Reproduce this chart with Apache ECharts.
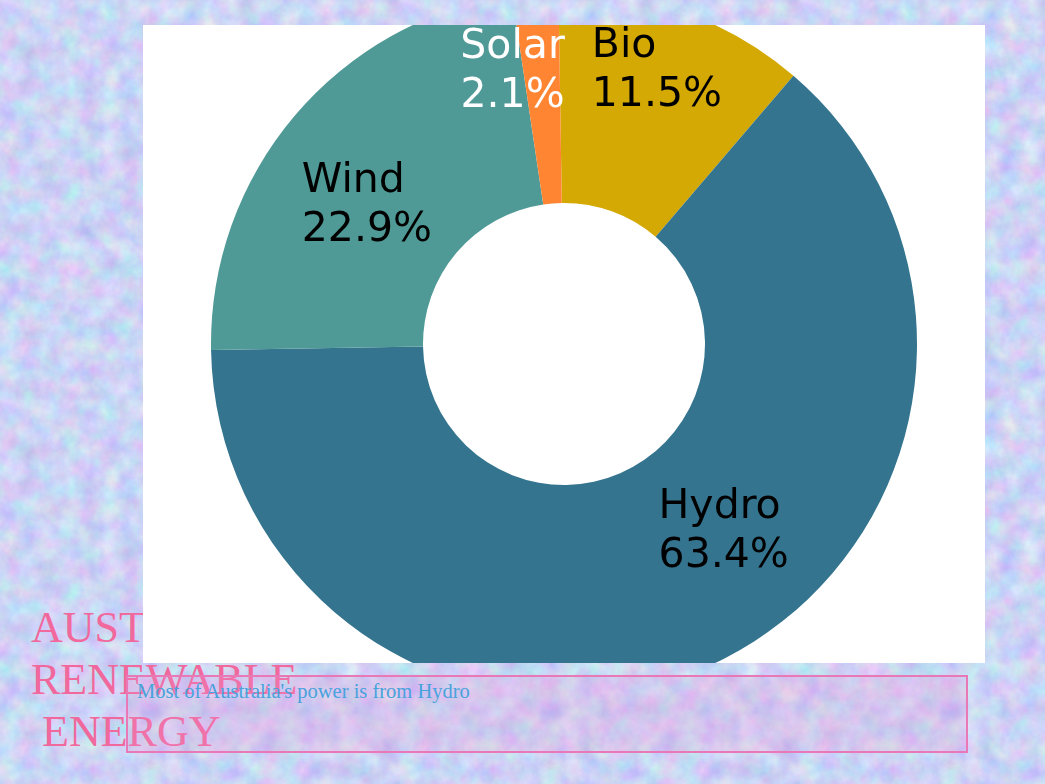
<!DOCTYPE html>
<html>
<head>
<meta charset="utf-8">
<script src="https://cdn.jsdelivr.net/npm/echarts@6/dist/echarts.min.js"></script>
<style>
  html, body { margin: 0; padding: 0; width: 1045px; height: 784px; overflow: hidden; }
  body { background-color: #cad6f4; position: relative; }
  #title {
    position: absolute; left: 31px; top: 602px; z-index: 1;
    font-family: "Liberation Serif", "Times New Roman", serif; font-size: 44px; line-height: 52px;
    color: #f0689c; white-space: pre;
  }
  #chart {
    position: absolute; left: 143px; top: 25px; width: 842px; height: 638px;
    background: #ffffff; z-index: 2;
  }
  #note {
    position: absolute; left: 126px; top: 675px; width: 838px; height: 74px;
    border: 2px solid #e879b6; background: rgba(236, 150, 215, 0.22); z-index: 3;
    font-family: "Liberation Serif", "Times New Roman", serif; font-size: 20.5px;
    color: #48a2dc; padding: 0; box-sizing: content-box;
  }
  #note span { position: absolute; left: 9px; top: 3px; white-space: nowrap; }
</style>
</head>
<body>
<div id="title">AUSTRALIA
RENEWABLE
 ENERGY</div>
<div id="chart"></div>
<div id="note"><span>Most of Australia's power is from Hydro</span></div>
<script>
// ---- data ----
const categories = ['Bio', 'Hydro', 'Wind', 'Solar'];
const shares = [11.5, 63.4, 22.9, 2.1];
const sliceColors = ['#d4a903', '#34748f', '#4f9a96', '#ff8533'];
const labelColors = ['#000000', '#000000', '#000000', '#ffffff'];

// background texture (svg noise)
const svg = "<svg xmlns='http://www.w3.org/2000/svg' width='400' height='400'>" +
  "<filter id='n' x='0' y='0' width='100%' height='100%' color-interpolation-filters='sRGB'>" +
  "<feTurbulence type='fractalNoise' baseFrequency='0.05' numOctaves='4' seed='7' stitchTiles='stitch'/>" +
  "<feColorMatrix values='0.3 0 0 0 0.65  0 0.28 0 0 0.69  0 0 0.1 0 0.91  0 0 0 0 1'/></filter>" +
  "<rect width='100%' height='100%' filter='url(#n)'/></svg>";
document.body.style.backgroundImage = 'url("data:image/svg+xml,' + encodeURIComponent(svg) + '")';

// per-label placement tweaks [dx, dy, blockWidth, lineAlign]
const labelPlace = [
  [8, -38, 130, 'left'],
  [53, -38.5, 130, 'left'],
  [-6.5, 23, 130, 'left'],
  [-31, -23, 110, 'center']
];

const chart = echarts.init(document.getElementById('chart'), null, { renderer: 'canvas' });
const data = categories.map((c, i) => ({
  name: c,
  value: shares[i],
  itemStyle: { color: sliceColors[i] },
  label: {
    offset: [labelPlace[i][0], labelPlace[i][1]],
    rich: {
      t: {
        width: labelPlace[i][2], align: labelPlace[i][3],
        fontFamily: 'DejaVu Sans', fontSize: 41, lineHeight: 49, color: labelColors[i]
      }
    }
  }
}));

chart.setOption({
  animation: false,
  series: [{
    type: 'pie',
    center: ['50%', '50%'],
    radius: [141, 353],
    startAngle: 90.9,
    clockwise: true,
    avoidLabelOverlap: false,
    emphasis: { disabled: true },
    label: {
      show: true,
      position: 'inside',
      formatter: p => '{t|' + p.name + '}\n{t|' + p.value.toFixed(1) + '%}'
    },
    labelLine: { show: false },
    data: data
  }]
});
</script>
</body>
</html>
